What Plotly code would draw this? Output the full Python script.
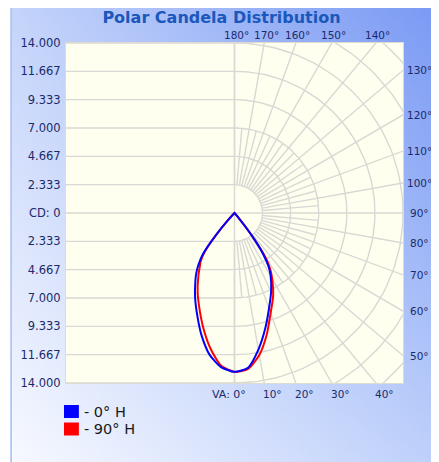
import math, zlib, struct, base64
import plotly.graph_objects as go

# ---------------- data ----------------
TITLE = "Polar Candela Distribution"
CD_MAX = 14.0
CD_RINGS = 6
CD_TICK_TEXT = ["14.000", "11.667", "9.333", "7.000", "4.667", "2.333", "CD: 0",
                "2.333", "4.667", "7.000", "9.333", "11.667", "14.000"]
VA_BOTTOM = [0, 10, 20, 30, 40]
VA_BOTTOM_TEXT = ["VA: 0°", "10°", "20°", "30°", "40°"]
VA_TOP = [180, 170, 160, 150, 140]
VA_RIGHT = [130, 120, 110, 100, 90, 80, 70, 60, 50]

VERT_ANGLES = [0, 5, 10, 15, 20, 25, 30, 32.5, 35, 37.5, 40, 42.5, 45, 90, 180]
CD_0H   = [13.2, 12.9, 11.5, 9.9, 8.4, 7.2, 6.0, 5.25, 4.1, 2.4, 0.5, 0.05, 0, 0, 0]
CD_180H = [13.2, 12.85, 11.95, 10.55, 9.05, 7.75, 6.5, 5.9, 5.2, 4.3, 2.4, 0.7, 0, 0, 0]
CD_90H  = [13.25, 13.0, 11.95, 10.4, 8.8, 7.6, 6.25, 5.5, 4.5, 2.3, 0.4, 0, 0, 0, 0]
CD_270H = [13.2, 12.75, 11.45, 9.95, 8.5, 7.25, 6.0, 5.4, 4.9, 4.1, 2.3, 0.6, 0, 0, 0]

SERIES = [("- 90° H", "#ff0000", CD_90H, CD_270H),
          ("- 0° H", "#0000ff", CD_0H, CD_180H)]

# ---------------- layout constants ----------------
OFF = 8                      # page body margin of the html page
W, H = 439 - OFF, 462 - OFF
L, T = 63 - OFF, 43 - OFF
PW = PH = 340
R, B = W - L - PW, H - T - PH
LABEL_COLOR = "#1b2a6b"
GRID_COLOR = "#d8d8d4"


def px_x(sx):   # screen px -> paper x
    return (sx - OFF - L) / PW


def px_y(sy):   # screen px -> paper y
    return 1 - (sy - OFF - T) / PH


def make_png(w, h, tl, tr, bl, br):
    rows = []
    for j in range(h):
        v = j / (h - 1)
        row = bytearray([0])
        for i in range(w):
            u = i / (w - 1)
            for c in range(3):
                top = tl[c] * (1 - u) + tr[c] * u
                bot = bl[c] * (1 - u) + br[c] * u
                row.append(int(round(top * (1 - v) + bot * v)))
        rows.append(bytes(row))
    raw = b"".join(rows)

    def chunk(t, d):
        return struct.pack(">I", len(d)) + t + d + struct.pack(">I", zlib.crc32(t + d) & 0xffffffff)

    png = (b"\x89PNG\r\n\x1a\n" + chunk(b"IHDR", struct.pack(">IIBBBBB", w, h, 8, 2, 0, 0, 0))
           + chunk(b"IDAT", zlib.compress(raw, 9)) + chunk(b"IEND", b""))
    return "data:image/png;base64," + base64.b64encode(png).decode()


bg_src = make_png(108, 115, (196, 212, 250), (122, 154, 244), (247, 249, 255), (190, 208, 250))

fig = go.Figure()

# ---------------- grid (cartesian) ----------------
step = CD_MAX / CD_RINGS
gx, gy = [], []
for k in range(-CD_RINGS, CD_RINGS + 1):
    gx += [-CD_MAX, 0, None]
    gy += [k * step, k * step, None]
gx += [0, 0, None]
gy += [-CD_MAX, CD_MAX, None]
for k in range(1, 9):
    r = k * step
    for a in range(0, 181, 2):
        t = math.radians(a)
        gx.append(r * math.sin(t))
        gy.append(-r * math.cos(t))
    gx.append(None)
    gy.append(None)
for a in range(0, 181, 10):
    t = math.radians(a)
    gx += [step * math.sin(t), 40 * math.sin(t), None]
    gy += [-step * math.cos(t), -40 * math.cos(t), None]
for a in range(5, 180, 10):
    t = math.radians(a)
    gx += [step * math.sin(t), 3 * step * math.sin(t), None]
    gy += [-step * math.cos(t), -3 * step * math.cos(t), None]
gx += [0, step, None]
gy += [0, 0, None]

fig.add_trace(go.Scatter(x=gx, y=gy, mode="lines", line=dict(color=GRID_COLOR, width=1.4),
                         hoverinfo="skip", showlegend=False))

# ---------------- curves (polar) ----------------
for name, color, right, left in SERIES:
    theta = [-a for a in VERT_ANGLES[::-1]] + VERT_ANGLES[1:]
    r = left[::-1] + right[1:]
    fig.add_trace(go.Scatterpolar(theta=theta, r=r, mode="lines", subplot="polar",
                                  line=dict(color=color, width=2, shape="spline", smoothing=0.6),
                                  showlegend=False, name=name))

# ---------------- annotations ----------------
ann = []
afont = dict(family="DejaVu Sans", size=10.5, color=LABEL_COLOR)
for a in VA_TOP:
    ann.append(dict(x=CD_MAX * math.tan(math.radians(180 - a)), xref="x", y=1, yref="paper",
                    text=f"{a}°", showarrow=False, xanchor="center", yanchor="bottom",
                    xshift=2, yshift=0, font=afont))
for a in VA_RIGHT:
    t = math.radians(a)
    ann.append(dict(x=px_x(420), xref="paper", y=-CD_MAX * math.cos(t) / math.sin(t), yref="y",
                    text=f"{a}°", showarrow=False, xanchor="center", yanchor="middle", font=afont))
for i, (a, txt) in enumerate(zip(VA_BOTTOM, VA_BOTTOM_TEXT)):
    ann.append(dict(x=CD_MAX * math.tan(math.radians(a)), xref="x", y=0, yref="paper",
                    text=txt, showarrow=False, xanchor="right" if i == 0 else "left",
                    xshift=13 if i == 0 else -3, yanchor="top", yshift=-3,
                    font=dict(afont, size=11) if i == 0 else afont))

# custom legend (square swatches + text)
shapes = [
    dict(type="rect", xref="paper", yref="paper", x0=0, x1=1, y0=0, y1=1,
         fillcolor="#fffff0", line=dict(width=0), layer="below"),
    dict(type="line", xref="paper", yref="paper", x0=px_x(7.6), x1=px_x(7.6),
         y0=px_y(OFF), y1=px_y(462), line=dict(color="#a4baf6", width=1.5), layer="below"),
]
for i, (name, color, _, _) in enumerate(SERIES[::-1]):
    cy = 411.5 + i * 17.5
    shapes.append(dict(type="rect", xref="paper", yref="paper",
                       x0=px_x(61), x1=px_x(76), y0=px_y(cy - 6.5), y1=px_y(cy + 6.5),
                       fillcolor=color, line=dict(width=0), layer="above"))
    ann.append(dict(x=px_x(79), xref="paper", y=px_y(cy), yref="paper", text=name,
                    showarrow=False, xanchor="left", yanchor="middle",
                    font=dict(family="DejaVu Sans", size=14.5, color="#1a1a1a")))

fig.update_layout(
    width=W, height=H,
    margin=dict(l=L, r=R, t=T, b=B),
    paper_bgcolor="white",
    plot_bgcolor="rgba(0,0,0,0)",
    title=dict(text=TITLE, x=(221.5 - OFF) / W, xref="container", xanchor="center",
               y=1 - (17.5 - OFF) / H, yref="container", yanchor="middle",
               font=dict(family="DejaVu Sans", size=16, color="#1a58bc", weight="bold")),
    xaxis=dict(range=[-CD_MAX, CD_MAX], showgrid=False, zeroline=False, showticklabels=False,
               showline=True, mirror=True, linecolor="#dedcd2", linewidth=1, fixedrange=True),
    yaxis=dict(range=[-CD_MAX, CD_MAX], showgrid=False, zeroline=False,
               tickvals=[CD_MAX - i * step for i in range(2 * CD_RINGS + 1)],
               ticktext=CD_TICK_TEXT, ticks="", ticklabelstandoff=2,
               tickfont=dict(family="DejaVu Sans", size=11.5, color=LABEL_COLOR),
               showline=True, mirror=True, linecolor="#dedcd2", linewidth=1, fixedrange=True),
    polar=dict(domain=dict(x=[0, 1], y=[0, 1]), bgcolor="rgba(0,0,0,0)",
               radialaxis=dict(range=[0, CD_MAX], visible=False),
               angularaxis=dict(rotation=-90, direction="counterclockwise", visible=False)),
    showlegend=False,
    annotations=ann,
    images=[dict(source=bg_src, xref="paper", yref="paper", x=px_x(OFF), y=px_y(OFF),
                 sizex=W / PW, sizey=H / PH, xanchor="left", yanchor="top",
                 sizing="stretch", layer="below")],
    shapes=shapes,
)

fig.write_html("out.html")
